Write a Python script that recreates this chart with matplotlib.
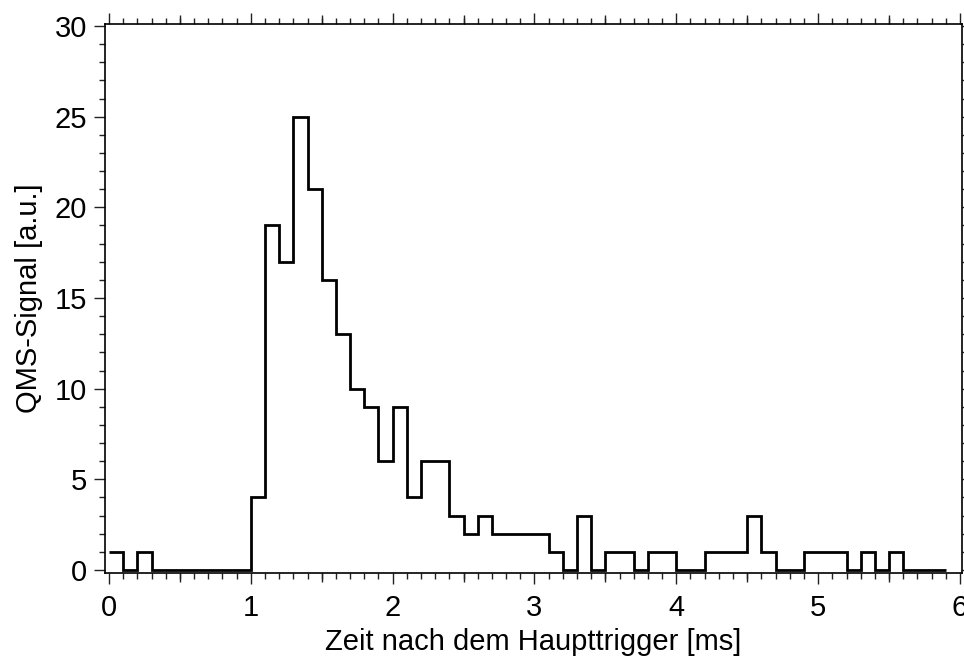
#!/usr/bin/env python3

import numpy as np
import matplotlib.pyplot as plt
from matplotlib.ticker import MultipleLocator

plt.rcParams['font.family'] = ['Liberation Sans', 'DejaVu Sans']

# QMS counts per 0.1 ms bin after the main trigger
bin_width = 0.1
t_start = 0.0
counts = [1, 0, 1, 0, 0, 0, 0, 0, 0, 0,
          4, 19, 17, 25, 21, 16, 13, 10, 9, 6,
          9, 4, 6, 6, 3, 2, 3, 2, 2, 2,
          2, 1, 0, 3, 0, 1, 1, 0, 1, 1,
          0, 0, 1, 1, 1, 3, 1, 0, 0, 1,
          1, 1, 0, 1, 0, 1, 0, 0, 0]

x_label = 'Zeit nach dem Haupttrigger [ms]'
y_label = 'QMS-Signal [a.u.]'
FONT_SIZE = 21


def plot_signal():
    edges = t_start + bin_width * np.arange(len(counts) + 1)

    fig = plt.figure(figsize=(9.64, 6.58), dpi=100)
    ax = fig.add_axes([0.1089, 0.1292, 0.889, 0.8343])
    ax.stairs(counts, edges, baseline=None, color='black', linewidth=2)

    ax.set_xlim(-0.028, 6.014)
    ax.set_ylim(-0.165, 30.11)

    ax.xaxis.set_major_locator(MultipleLocator(1))
    ax.xaxis.set_minor_locator(MultipleLocator(0.1))
    ax.yaxis.set_major_locator(MultipleLocator(5))
    ax.yaxis.set_minor_locator(MultipleLocator(1))

    ax.tick_params(axis='x', which='both', direction='out', top=True, bottom=True,
                   labeltop=False, width=1, colors='#222222', labelcolor='black')
    ax.tick_params(axis='x', which='major', length=8.2, pad=7, labelsize=FONT_SIZE)
    ax.tick_params(axis='x', which='minor', length=4.6)
    ax.tick_params(axis='y', which='both', direction='out', left=True, right=False,
                   width=1, colors='#222222', labelcolor='black')
    ax.tick_params(axis='y', which='major', length=8, pad=5, labelsize=FONT_SIZE)
    ax.tick_params(axis='y', which='minor', length=4)

    # half-unit ticks on top and bottom, slightly shorter than the integer ticks
    for side in ('bottom', 'top'):
        sec = ax.secondary_xaxis(side)
        sec.set_xticks(np.arange(0.5, 6.0, 1.0))
        sec.tick_params(length=6.8, width=1, colors='#222222',
                        labelbottom=False, labeltop=False)
        sec.spines[side].set_visible(False)

    secy = ax.secondary_yaxis('right')
    secy.yaxis.set_major_locator(MultipleLocator(1))
    secy.tick_params(length=3, width=1, colors='#222222', labelright=False)
    secy.spines['right'].set_visible(False)

    for spine in ax.spines.values():
        spine.set_linewidth(1.2)
        spine.set_color('black')

    ax.set_xlabel(x_label, fontsize=FONT_SIZE, labelpad=4)
    ax.set_ylabel(y_label, fontsize=FONT_SIZE, labelpad=8)

    fig.savefig('out.png', dpi=100)


def main():
    plot_signal()


if __name__ == "__main__":
    main()
